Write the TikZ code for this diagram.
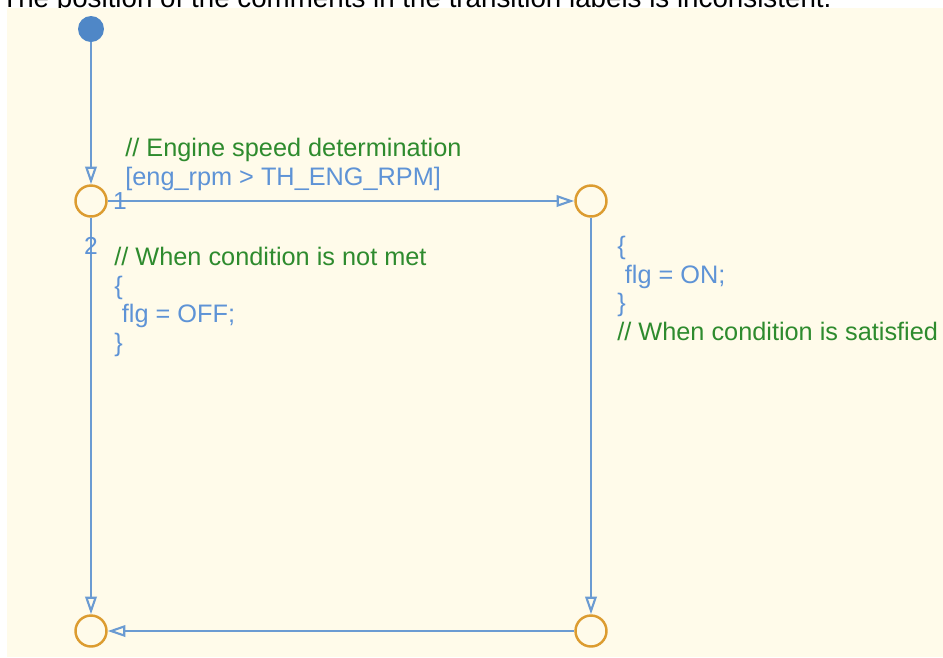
\documentclass[tikz,border=0pt]{standalone}
\usepackage{fontspec}
\setmainfont{Liberation Sans}
\usetikzlibrary{arrows.meta}
\definecolor{chartbg}{HTML}{FFFBEA}
\definecolor{transblue}{HTML}{6B9BD2}
\definecolor{textblue}{HTML}{5E93D6}
\definecolor{commentgreen}{HTML}{2E8B2E}
\definecolor{juncorange}{HTML}{DC9C30}
\definecolor{dotblue}{HTML}{4F87C7}
\tikzset{
	junction/.style={circle, draw=juncorange, line width=1.4pt, minimum size=0.62cm, inner sep=0pt},
	defaultdot/.style={circle, fill=dotblue, minimum size=0.52cm, inner sep=0pt},
	transline/.style={draw=transblue, line width=1.2pt, -{Triangle[open, length=10pt, width=6.5pt]}},
	lbltext/.style={anchor=base west, align=left, inner sep=0pt, text=textblue, font=\fontsize{14.4}{16.2}\selectfont},
	execnum/.style={inner sep=0pt, text=textblue, font=\fontsize{14}{14}\selectfont}
}
\begin{document}
\begin{tikzpicture}[x=0.02cm, y=-0.02cm]
	\useasboundingbox (0,0) rectangle (943,657);
	\begin{scope}
		\clip (0,0) rectangle (943,8);
		\node[anchor=base west, inner sep=0pt, font=\fontsize{15.8}{18}\selectfont] (caption) at (1,7) {The position of the comments in the transition labels is inconsistent.};
	\end{scope}
	\fill[chartbg] (7,8) rectangle (943,657);
	\node[defaultdot] (start) at (91,29) {};
	\node[junction] (j1) at (91,201) {};
	\node[junction] (j2) at (591,201) {};
	\node[junction] (j3) at (91,631) {};
	\node[junction] (j4) at (591,631) {};
	\draw[transline] (start) -- (j1);
	\draw[transline] (j1) -- node[execnum, pos=0.026] (num1) {1} (j2);
	\draw[transline] (j1) -- node[execnum, pos=0.07] (num2) {2} (j3);
	\draw[transline] (j2) -- (j4);
	\draw[transline] (j4) -- (j3);
	\node[lbltext] (lbl1) at (125,185) {\textcolor{commentgreen}{// Engine speed determination}\\{}[eng\_rpm > TH\_ENG\_RPM]};
	\node[lbltext] (lbl2) at (114,351) {\textcolor{commentgreen}{// When condition is not met}\\\{\\\hspace*{0.3em}flg = OFF;\\\}};
	\node[lbltext] (lbl3) at (617,340) {\{\\\hspace*{0.3em}flg = ON;\\\}\\\textcolor{commentgreen}{// When condition is satisfied}};
\end{tikzpicture}
\end{document}
